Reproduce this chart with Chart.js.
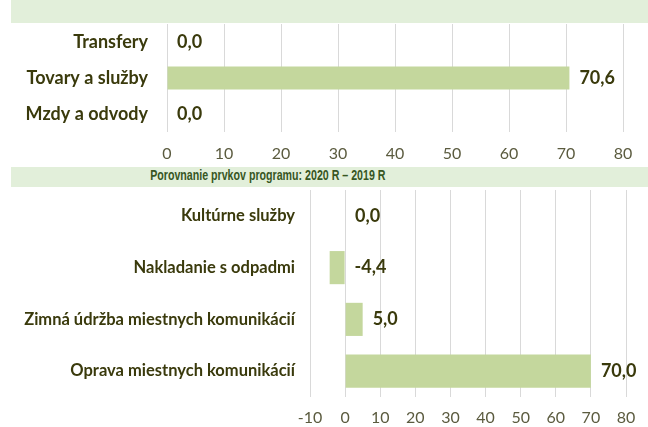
<!DOCTYPE html>
<html>
<head>
<meta charset="utf-8">
<script src="https://cdn.jsdelivr.net/npm/chart.js@4"></script>
<style>
  html, body { margin: 0; padding: 0; background: #fff; }
  #wrap { position: relative; width: 648px; height: 427px; overflow: hidden; }
  .band { position: absolute; left: 11px; right: 0; background: #e2efda; }
  #band1 { top: 0; height: 23px; }
  #band2 { top: 167px; height: 20px; }
  #title2 {
    position: absolute; top: 167px; left: 0; width: 535px; height: 20px;
    line-height: 20px; text-align: center; white-space: nowrap;
    font: bold 14px "Liberation Sans", Arial, sans-serif; color: #375623;
  }
  #title2 span { display: inline-block; transform: scaleX(0.76); transform-origin: center; }
  canvas { position: absolute; left: 0; }
  #c1 { top: 23px; }
  #c2 { top: 187px; }
</style>
</head>
<body>
<div id="wrap">
  <div class="band" id="band1"></div>
  <div class="band" id="band2"></div>
  <div id="title2"><span>Porovnanie prvkov programu: 2020 R – 2019 R</span></div>
  <canvas id="c1" width="648" height="144"></canvas>
  <canvas id="c2" width="648" height="240"></canvas>
</div>
<script>
// --- Data ---
const topCategories = ['Transfery', 'Tovary a služby', 'Mzdy a odvody'];
const topValues = [0.0, 70.6, 0.0];

const bottomCategories = ['Kultúrne služby', 'Nakladanie s odpadmi', 'Zimná údržba miestnych komunikácií', 'Oprava miestnych komunikácií'];
const bottomValues = [0.0, -4.4, 5.0, 70.0];

const BAR_COLOR = '#c4d79d';
const TEXT_COLOR = '#3a3a0c';
const TICK_COLOR = '#5b5b3f';
const GRID_COLOR = '#d9d9d9';
const FONT = "Lato, 'Open Sans', sans-serif";

// value labels right of the bar end (or right of zero for negatives)
const valueLabels = {
    id: 'valueLabels',
    afterDatasetsDraw(chart) {
        const ctx = chart.ctx;
        const data = chart.data.datasets[0].data;
        ctx.save();
        ctx.font = `bold 18px ${FONT}`;
        ctx.fillStyle = TEXT_COLOR;
        ctx.textAlign = 'left';
        ctx.textBaseline = 'middle';
        chart.getDatasetMeta(0).data.forEach((bar, i) => {
            const x = Math.max(bar.x, bar.base) + 10;
            ctx.fillText(data[i].toFixed(1).replace('.', ','), x, bar.y);
        });
        ctx.restore();
    }
};

function makeChart(id, labels, values, opts) {
    return new Chart(document.getElementById(id), {
        type: 'bar',
        data: {
            labels: labels,
            datasets: [{
                data: values,
                backgroundColor: BAR_COLOR,
                borderWidth: 0,
                categoryPercentage: 1,
                barPercentage: 0.64
            }]
        },
        options: {
            indexAxis: 'y',
            responsive: false,
            animation: false,
            devicePixelRatio: 1,
            layout: { padding: { top: opts.padTop, right: opts.padRight, left: 0, bottom: 0 } },
            plugins: { legend: { display: false }, tooltip: { enabled: false } },
            scales: {
                x: {
                    min: opts.min, max: opts.max,
                    border: { display: false },
                    grid: { color: GRID_COLOR, drawTicks: false },
                    ticks: { stepSize: 10, color: TICK_COLOR, padding: opts.tickPad, font: { family: FONT, size: 16 } },
                    afterFit: (s) => {
                        s.height = opts.xHeight;
                        s.paddingLeft = 0;
                        s.paddingRight = 0;
                    }
                },
                y: {
                    border: { display: false },
                    grid: { display: false, drawTicks: false },
                    ticks: { color: TEXT_COLOR, padding: opts.labelPad, font: { family: FONT, size: opts.labelSize, weight: 'bold' } },
                    afterFit: (s) => {
                        s.width = opts.yWidth;
                        s.paddingTop = 0;
                        s.paddingBottom = 0;
                    }
                }
            }
        },
        plugins: [valueLabels]
    });
}

makeChart('c1', topCategories, topValues, {
    min: 0, max: 80, padTop: 1, padRight: 25, xHeight: 35, yWidth: 167, labelPad: 19, labelSize: 18, tickPad: 12
});
makeChart('c2', bottomCategories, bottomValues, {
    min: -10, max: 80, padTop: 3, padRight: 22, xHeight: 30, yWidth: 310, labelPad: 15, labelSize: 16.5, tickPad: 11
});
</script>
</body>
</html>
